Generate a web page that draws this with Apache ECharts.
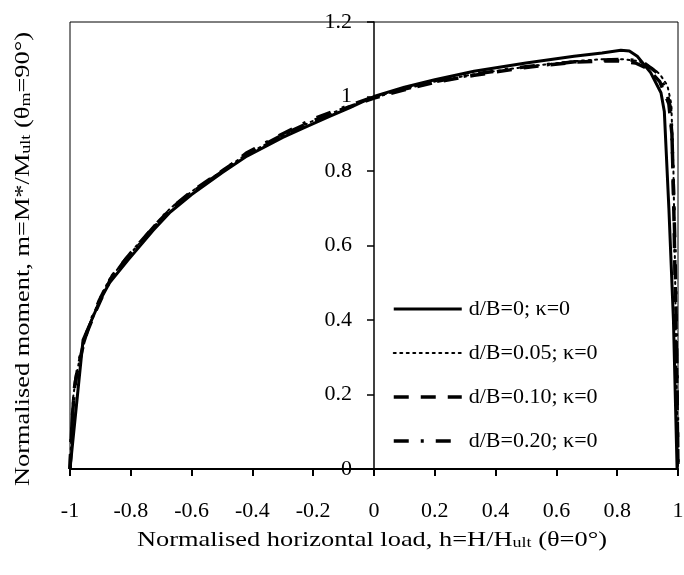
<!DOCTYPE html>
<html>
<head>
<meta charset="utf-8">
<script src="https://cdn.jsdelivr.net/npm/echarts@6/dist/echarts.min.js"></script>
<style>html,body{margin:0;padding:0;background:#fff}#c{width:684px;height:575px}</style>
</head>
<body>
<div id="c"></div>
<script>
// Tick labels are produced by the value axes: x -1..1 step 0.2, y 0..1.2 step 0.2
const xTicks = [-1, -0.8, -0.6, -0.4, -0.2, 0, 0.2, 0.4, 0.6, 0.8, 1];
const yTicks = [0, 0.2, 0.4, 0.6, 0.8, 1, 1.2];

const seriesNames = ['d/B=0; \u03ba=0', 'd/B=0.05; \u03ba=0', 'd/B=0.10; \u03ba=0', 'd/B=0.20; \u03ba=0'];

// d/B = 0
const h0 = [-1, -0.957, -0.934, -0.9, -0.87, -0.81, -0.727, -0.67, -0.6, -0.5, -0.418, -0.3, -0.233, -0.15, -0.079, 0, 0.1, 0.2, 0.329, 0.5, 0.658, 0.75, 0.812, 0.84, 0.866, 0.91, 0.944, 0.955, 0.97, 0.985, 0.997];
const m0 = [0, 0.347, 0.39, 0.455, 0.5, 0.56, 0.64, 0.69, 0.737, 0.795, 0.84, 0.89, 0.915, 0.945, 0.97, 1.0, 1.025, 1.045, 1.068, 1.09, 1.108, 1.117, 1.124, 1.122, 1.108, 1.064, 1.01, 0.96, 0.7, 0.4, 0];

// d/B = 0.05
const h1 = [-1, -0.995, -0.99, -0.98, -0.967, -0.95, -0.93, -0.9, -0.87, -0.81, -0.73, -0.67, -0.6, -0.5, -0.42, -0.3, -0.2, -0.1, 0, 0.1, 0.2, 0.33, 0.5, 0.66, 0.75, 0.82, 0.87, 0.91, 0.94, 0.965, 0.978, 0.985, 0.99, 0.995, 1.0];
const m1 = [0, 0.1, 0.19, 0.25, 0.3, 0.355, 0.4, 0.462, 0.51, 0.57, 0.645, 0.7, 0.745, 0.8, 0.845, 0.895, 0.935, 0.968, 0.998, 1.02, 1.04, 1.06, 1.08, 1.095, 1.1, 1.1, 1.095, 1.08, 1.06, 1.03, 0.98, 0.8, 0.55, 0.25, 0];

// d/B = 0.10
const h2 = [-1, -0.993, -0.985, -0.977, -0.96, -0.945, -0.92, -0.89, -0.86, -0.8, -0.72, -0.66, -0.6, -0.5, -0.41, -0.3, -0.2, -0.1, 0, 0.1, 0.2, 0.33, 0.5, 0.66, 0.75, 0.8, 0.86, 0.9, 0.94, 0.97, 0.98, 0.985, 0.993, 1.0];
const m2 = [0, 0.13, 0.22, 0.26, 0.32, 0.365, 0.415, 0.47, 0.52, 0.58, 0.655, 0.705, 0.745, 0.8, 0.85, 0.897, 0.935, 0.967, 0.996, 1.018, 1.038, 1.057, 1.078, 1.092, 1.095, 1.096, 1.09, 1.075, 1.04, 0.98, 0.9, 0.75, 0.4, 0];

// d/B = 0.20
const h3 = [-1, -0.996, -0.99, -0.982, -0.97, -0.955, -0.935, -0.905, -0.875, -0.815, -0.735, -0.675, -0.6, -0.5, -0.42, -0.3, -0.2, -0.1, 0, 0.1, 0.2, 0.33, 0.5, 0.66, 0.75, 0.82, 0.88, 0.93, 0.96, 0.975, 0.98, 0.99, 0.996, 1.0];
const m3 = [0, 0.08, 0.17, 0.235, 0.29, 0.34, 0.39, 0.45, 0.5, 0.565, 0.64, 0.695, 0.742, 0.798, 0.848, 0.9, 0.94, 0.97, 0.999, 1.02, 1.04, 1.06, 1.08, 1.093, 1.098, 1.1, 1.095, 1.065, 1.02, 0.97, 0.9, 0.6, 0.3, 0];

const hs = [h0, h1, h2, h3];
const ms = [m0, m1, m2, m3];

const xTitle = 'Normalised horizontal load, h=H/H{sub|ult} (\u03b8=0\u00b0)';
const yTitle = 'Normalised moment, m=M*/M{sub|ult} (\u03b8{sub|m}=90\u00b0)';

const FONT = 'Liberation Serif';
const lineStyles = [
  { width: 3, type: 'solid' },
  { width: 2, type: [2, 4.5], cap: 'round' },
  { width: 3.5, type: [15, 12] },
  { width: 3.5, type: [15, 12, 3, 12] }
];

const GRID_LEFT = 70, GRID_RIGHT = 6;
const PLOT_W = 684 - GRID_LEFT - GRID_RIGHT;

const chart = echarts.init(document.getElementById('c'), null, { renderer: 'canvas' });

const series = seriesNames.map((name, i) => ({
  name: name,
  type: 'line',
  data: hs[i].map((h, j) => [h, ms[i][j]]),
  symbol: 'none',
  smooth: false,
  lineStyle: Object.assign({ color: '#000' }, lineStyles[i]),
  itemStyle: { color: '#000' },
  z: 10 - i
}));

const subRich = { sub: { fontFamily: FONT, fontSize: 15, fontWeight: 'normal', fill: '#000', lineWidth: 0, verticalAlign: 'bottom', lineHeight: 15 } };
const titleStyle = (t) => ({
  text: t, rich: subRich, fontFamily: FONT, fontSize: 22, fontWeight: 'normal',
  fill: '#000', stroke: null, lineWidth: 0, align: 'center', verticalAlign: 'middle'
});

chart.setOption({
  animation: false,
  backgroundColor: '#fff',
  grid: {
    left: GRID_LEFT, right: GRID_RIGHT, top: 22, bottom: 106,
    containLabel: false,
    outerBoundsMode: 'none',
    show: true, borderColor: '#000', borderWidth: 1, backgroundColor: 'transparent'
  },
  legend: {
    orient: 'vertical',
    left: 392,
    top: 298,
    padding: 0,
    itemWidth: 68,
    itemHeight: 20,
    itemGap: 22,
    itemStyle: { opacity: 0, color: 'rgba(0,0,0,0)', borderWidth: 0 },
    textStyle: { fontFamily: FONT, fontSize: 22, color: '#000', padding: [0, 0, 0, 2] },
    data: seriesNames.map((n, i) => ({
      name: n,
      lineStyle: { width: lineStyles[i].width, type: lineStyles[i].type, color: '#000', cap: lineStyles[i].cap || 'butt' }
    }))
  },
  graphic: [
    { type: 'text', x: 372, y: 540, scaleX: 1.2, scaleY: 1, style: titleStyle(xTitle) },
    { type: 'text', x: 23, y: 259, rotation: Math.PI / 2, scaleX: 1.2, scaleY: 1, style: titleStyle(yTitle) }
  ],
  xAxis: {
    type: 'value',
    min: xTicks[0], max: xTicks[xTicks.length - 1], interval: 0.2,
    axisLine: { onZero: false, lineStyle: { color: '#000', width: 2 } },
    axisTick: { show: true, length: 7, lineStyle: { color: '#000', width: 2 } },
    axisLabel: { color: '#000', fontFamily: FONT, fontSize: 22, margin: 31 },
    splitLine: { show: false }
  },
  yAxis: {
    type: 'value',
    position: 'left',
    offset: -PLOT_W / 2,
    min: yTicks[0], max: yTicks[yTicks.length - 1], interval: 0.2,
    axisLine: { onZero: false, lineStyle: { color: '#000', width: 1.5 } },
    axisTick: { show: true, length: 7, lineStyle: { color: '#000', width: 1.5 } },
    axisLabel: { color: '#000', fontFamily: FONT, fontSize: 22, margin: 22 },
    splitLine: { show: false }
  },
  series: series
});
</script>
</body>
</html>
